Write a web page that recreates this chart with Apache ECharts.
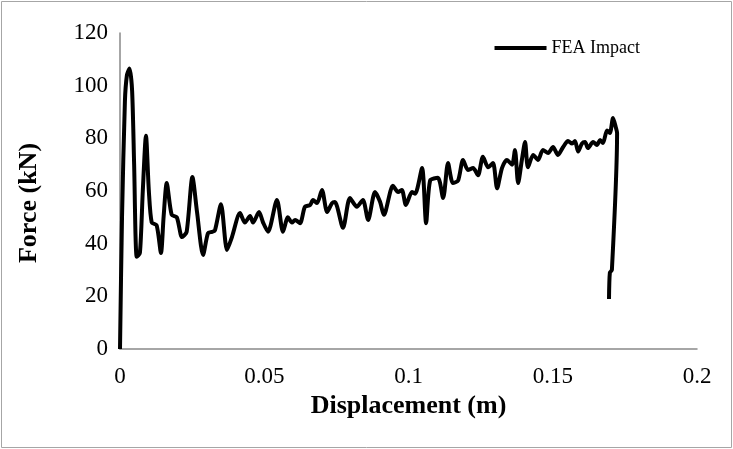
<!DOCTYPE html>
<html><head><meta charset="utf-8">
<script src="https://cdn.jsdelivr.net/npm/echarts@6/dist/echarts.min.js"></script>
<style>html,body{margin:0;padding:0;background:#fff}#c{width:733px;height:449px}</style>
</head><body><div id="c"></div>
<script>
const seriesName = 'FEA Impact';
const xTitle = 'Displacement (m)';
const yTitle = 'Force (kN)';
const displacement = [0,0.0007,0.0017,0.0024,0.0033,0.0042,0.0049,0.0058,0.0069,0.0079,0.0090,0.0100,0.0110,0.0127,0.0142,0.0151,0.0162,0.0179,0.0197,0.0215,0.0231,0.0251,0.0267,0.0288,0.0305,0.0319,0.0329,0.0350,0.0371,0.0388,0.0416,0.0433,0.0451,0.0461,0.0482,0.0496,0.0513,0.0544,0.0565,0.0582,0.0596,0.0607,0.0624,0.0641,0.0659,0.0669,0.0683,0.0700,0.0718,0.0735,0.0745,0.0773,0.0797,0.0821,0.0842,0.0860,0.0884,0.0901,0.0915,0.0946,0.0964,0.0977,0.0991,0.1012,0.1023,0.1047,0.1061,0.1075,0.1102,0.1120,0.1137,0.1154,0.1172,0.1189,0.1206,0.1224,0.1241,0.1258,0.1276,0.1293,0.1307,0.1324,0.1341,0.1359,0.1369,0.1380,0.1393,0.1404,0.1414,0.1432,0.1449,0.1466,0.1484,0.1501,0.1518,0.1536,0.1553,0.1567,0.1577,0.1588,0.1601,0.1612,0.1622,0.1640,0.1653,0.1664,0.1674,0.1688,0.1698,0.1709,0.1719,0.1723,0.1705,0.1698,0.1695];
const force = [0,50,94,104,106.5,98,70,35,36.5,60,81,60,48,47,36.5,50,63,51,50,42.5,44.5,65.3,52,35.7,44,44.5,45,55,37.6,42.5,51.6,48,50.5,48,52,48,44.5,56.6,44.5,50,48,49,47.8,54,54.7,56.6,55.4,60.4,52,55.4,55.8,46,57.3,54,56.6,49,59.6,56,51,62,59.6,60.4,54.7,59.6,59,68.7,47.8,64,65,57.3,70.6,63,64,71.8,68,68.7,66,73,69,70.6,61,68.7,71.8,70,75.6,63,71.8,78.6,69,73.7,71.8,75.6,74.4,76.7,73.7,76.7,79,78,79,75,78,78.6,76.3,78.6,77.5,79.4,78.2,83,82,87.7,84,82,30,29,19];
const xTicks = [0, 0.05, 0.1, 0.15, 0.2];
const yTicks = [0, 20, 40, 60, 80, 100, 120];

const data = displacement.map((d, i) => [d, force[i]]);
const chart = echarts.init(document.getElementById('c'), null, {renderer: 'canvas'});
const serif = '"Liberation Serif", "Times New Roman", serif';
chart.setOption({
  animation: false,
  backgroundColor: '#fff',
  graphic: [{type: 'rect', shape: {x: 1.5, y: 1.5, width: 730, height: 446}, style: {fill: 'none', stroke: '#a6a6a6', lineWidth: 1}, silent: true}],
  grid: {left: 120, right: 36, top: 33, bottom: 100, containLabel: false},
  legend: {
    data: [seriesName], top: 34, right: 88, itemWidth: 52, itemHeight: 4, itemGap: 6,
    textStyle: {fontFamily: serif, fontSize: 18, color: '#000'},
    icon: 'rect'
  },
  xAxis: {
    type: 'value', min: xTicks[0], max: xTicks[xTicks.length - 1], interval: 0.05,
    name: xTitle, nameLocation: 'middle', nameGap: 38,
    nameTextStyle: {fontFamily: serif, fontSize: 26, fontWeight: 'bold', color: '#000'},
    axisLine: {lineStyle: {color: '#898989', width: 1.5}},
    axisTick: {show: false},
    splitLine: {show: false},
    axisLabel: {fontFamily: serif, fontSize: 23, color: '#000', margin: 16, formatter: v => String(+v.toFixed(2))}
  },
  yAxis: {
    type: 'value', min: yTicks[0], max: yTicks[yTicks.length - 1], interval: 20,
    name: yTitle, nameLocation: 'middle', nameGap: 78, nameRotate: 90,
    nameTextStyle: {fontFamily: serif, fontSize: 26, fontWeight: 'bold', color: '#000', padding: [0, 24, 0, 0]},
    axisLine: {show: true, lineStyle: {color: '#898989', width: 1.5}},
    axisTick: {show: false},
    splitLine: {show: false},
    axisLabel: {fontFamily: serif, fontSize: 23, color: '#000', margin: 12}
  },
  series: [{
    name: seriesName, type: 'line', data: data, smooth: 0.25, symbol: 'none',
    lineStyle: {color: '#000', width: 4}, itemStyle: {color: '#000'}
  }]
});
</script></body></html>
